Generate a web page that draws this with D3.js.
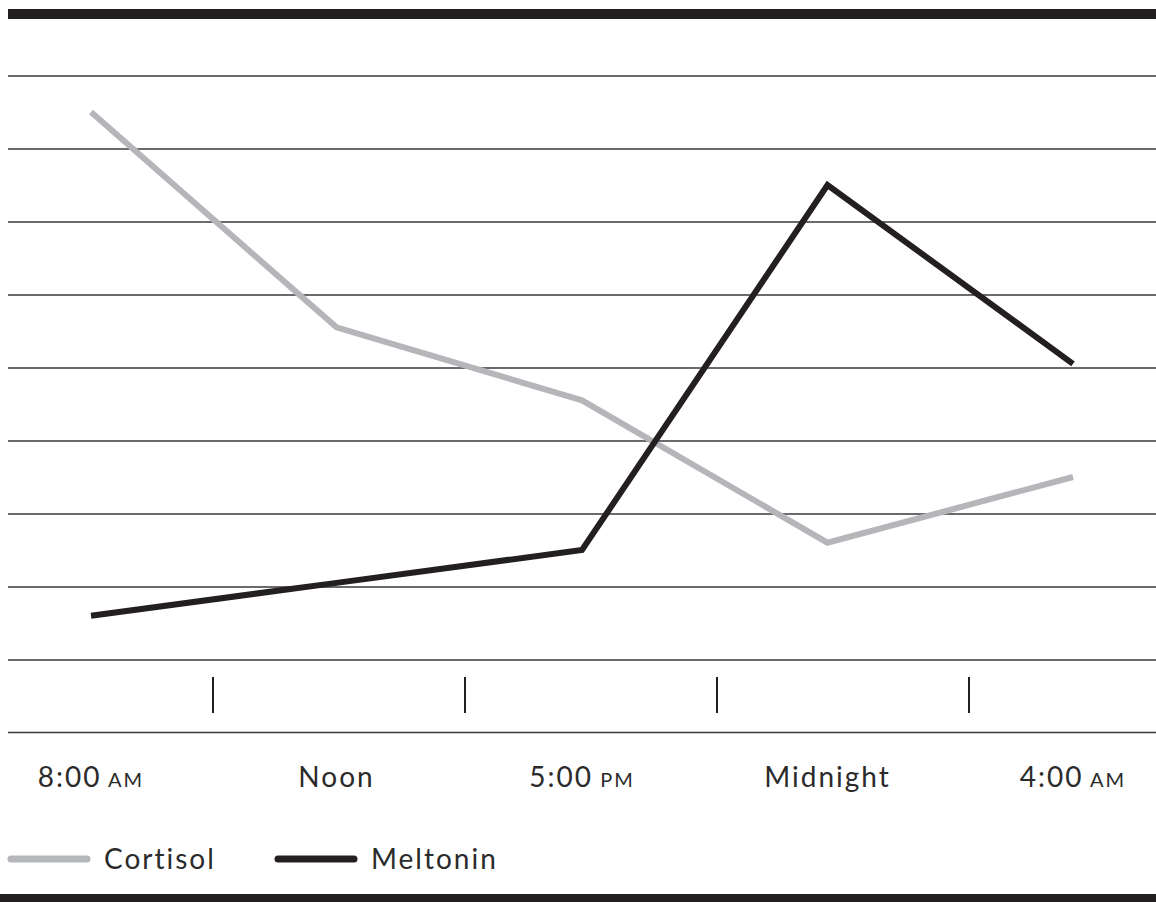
<!DOCTYPE html>
<html>
<head>
<meta charset="utf-8">
<script src="https://cdn.jsdelivr.net/npm/d3@7"></script>
<style>
  html, body { margin: 0; padding: 0; background: #fff; }
  svg { display: block; }
  text { font-family: Lato, "Open Sans", sans-serif; fill: #2b2b2b; }
</style>
</head>
<body>
<svg id="chart" width="1156" height="902"></svg>
<script>
// Time-of-day categories and their label parts (main text + small-caps suffix)
const times = ["8:00 AM", "Noon", "5:00 PM", "Midnight", "4:00 AM"];
const labelMain = ["8:00", "Noon", "5:00", "Midnight", "4:00"];
const labelSuffix = ["AM", "", "PM", "", "AM"];

// Relative hormone levels (gridline units)
const cortisol = [7.5, 4.55, 3.55, 1.6, 2.5];
const meltonin = [0.6, 1.05, 1.5, 6.5, 4.05];

const seriesNames = ["Cortisol", "Meltonin"];
const gridValues = d3.range(0, 9); // 0..8

const W = 1156, H = 902;
const left = 8;
const colors = { Cortisol: "#b4b6b9", Meltonin: "#231f20" };

const svg = d3.select("#chart");

const x = d3.scalePoint().domain(times).range([91, 1073]);
const xBand = d3.scaleBand().domain(times).range([-39, 1221]).padding(0);
const y = d3.scaleLinear().domain([0, 8]).range([659.5, 75.5]);

// Heavy rules top and bottom
svg.append("rect").attr("x", left).attr("y", 9).attr("width", W - left).attr("height", 10).attr("fill", "#231f20");
svg.append("rect").attr("x", 0).attr("y", 894).attr("width", W).attr("height", 8).attr("fill", "#231f20");

// Horizontal gridlines
const yAxis = d3.axisLeft(y).tickValues(gridValues).tickSize(-(W - left)).tickFormat("");
const gy = svg.append("g").attr("transform", `translate(${left},0)`).call(yAxis);
gy.select(".domain").remove();
gy.selectAll(".tick line").attr("stroke", "#3a3a3a").attr("stroke-width", 1.6);

// Baseline under the tick band
svg.append("line")
  .attr("x1", left).attr("x2", W)
  .attr("y1", 732.5).attr("y2", 732.5)
  .attr("stroke", "#3a3a3a").attr("stroke-width", 1.6);

// Separator ticks between time periods
const bounds = times.slice(1).map(t => xBand(t));
svg.append("g").selectAll("line").data(bounds).join("line")
  .attr("x1", d => d).attr("x2", d => d)
  .attr("y1", 677).attr("y2", 713)
  .attr("stroke", "#231f20").attr("stroke-width", 2);

// Category labels
const lbl = svg.append("g").selectAll("text").data(times).join("text")
  .attr("x", d => x(d))
  .attr("y", 787)
  .attr("text-anchor", "middle")
  .style("font-size", "28px")
  .style("letter-spacing", "2px");
lbl.append("tspan").text((d, i) => labelMain[i]);
lbl.filter((d, i) => labelSuffix[i] !== "")
  .append("tspan")
  .style("font-size", "20px")
  .text((d, i) => " " + labelSuffix[times.indexOf(d)]);

// Series lines
const line = d3.line().x((d, i) => x(times[i])).y(d => y(d));
const series = [
  { name: "Cortisol", values: cortisol },
  { name: "Meltonin", values: meltonin }
];
svg.append("g").selectAll("path").data(series).join("path")
  .attr("d", d => line(d.values))
  .attr("fill", "none")
  .attr("stroke", d => colors[d.name])
  .attr("stroke-width", 6)
  .attr("stroke-linejoin", "miter")
  .attr("stroke-linecap", "butt");

// Legend
const legendX = [11, 278];
const lg = svg.append("g").selectAll("g").data(seriesNames).join("g")
  .attr("transform", (d, i) => `translate(${legendX[i]},859)`);
lg.append("line")
  .attr("x1", 0).attr("x2", 76)
  .attr("stroke", d => colors[d])
  .attr("stroke-width", 7)
  .attr("stroke-linecap", "round");
lg.append("text")
  .attr("x", 93).attr("y", 10)
  .style("font-size", "28px")
  .style("letter-spacing", "2px")
  .text(d => d);
</script>
</body>
</html>
